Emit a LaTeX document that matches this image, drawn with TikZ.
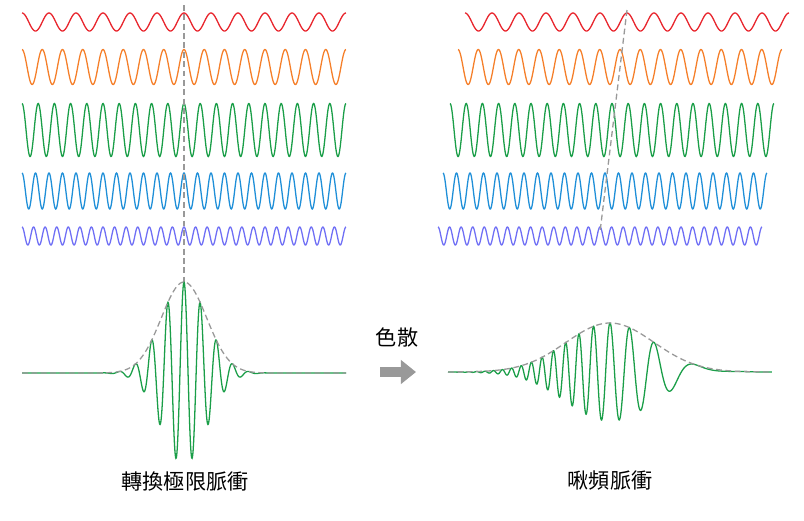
\documentclass[tikz,border=0pt]{standalone}
\usepackage{fontspec}
\newfontfamily\cjk{Noto Sans CJK TC}
\usetikzlibrary{arrows.meta}
\definecolor{wred}{HTML}{E8232B}
\definecolor{worange}{HTML}{F57F2A}
\definecolor{wgreen}{HTML}{1A9E48}
\definecolor{wblue}{HTML}{1F8FD8}
\definecolor{wpurple}{HTML}{6F6FF5}
\begin{document}
\begin{tikzpicture}[x=0.03cm,y=-0.03cm,
  wave/.style={line width=1.1pt},
  env/.style={gray!80,line width=1.1pt,dash pattern=on 5pt off 3pt},
  lab/.style={font=\cjk\fontsize{18}{20}\selectfont}]
\useasboundingbox (0,0) rectangle (804,520);
% left waves
\draw[wave,wred] plot[domain=22:346,samples=500] (\x,{22-9*cos((\x-22)*(360/27))});
\draw[wave,worange] plot[domain=22:346,samples=600] (\x,{67-17.5*cos((\x-22)*(360/20.25))});
\draw[wave,wgreen] plot[domain=22:346,samples=700] (\x,{130-26.5*cos((\x-22)*(360/16.2))});
\draw[wave,wblue] plot[domain=22:346,samples=800] (\x,{191-18*cos((\x-22)*(360/13.5))});
\draw[wave,wpurple] plot[domain=22:346,samples=900] (\x,{236-9*cos((\x-22)*(360/11.5714))});
% right waves
\draw[wave,wred] plot[domain=465:789,samples=500] (\x,{22-9*cos((\x-465)*(360/27))});
\draw[wave,worange] plot[domain=458:782,samples=600] (\x,{67-17.5*cos((\x-458)*(360/20.25))});
\draw[wave,wgreen] plot[domain=450:774,samples=700] (\x,{130-26.5*cos((\x-450)*(360/16.2))});
\draw[wave,wblue] plot[domain=443:767,samples=800] (\x,{191-18*cos((\x-443)*(360/13.5))});
\draw[wave,wpurple] plot[domain=438:762,samples=900] (\x,{236-9*cos((\x-438)*(360/11.5714))});
% dashed reference lines
\coordinate (la) at (184,5); \coordinate (lb) at (184,282);
\coordinate (ra) at (627,10); \coordinate (rb) at (600,232);
\draw[env] (la) -- (lb);
\draw[env] (ra) -- (rb);
% left pulse
\draw[wave,wgreen] plot[domain=22:346,samples=900] (\x,{373-91*exp(-((\x-184)/32)^2)*cos((\x-184)*(360/16.2))});
\draw[env] plot[domain=22:346,samples=200] (\x,{373-91*exp(-((\x-184)/32)^2)});
% right chirped pulse
\draw[wave,wgreen] plot[domain=448:772,samples=1000] (\x,{372-49*exp(-((\x-610)/62)^2)*cos(57.2958*(35.5*((\x-610)/100)-15.8*((\x-610)/100)^2))});
\draw[env] plot[domain=448:772,samples=200] (\x,{372-49*exp(-((\x-610)/62)^2)});
% arrow
\coordinate (aa) at (380,372); \coordinate (ab) at (416,372);
\draw[gray!80,line width=9pt,-{Triangle[length=13pt,width=20pt]}] (aa) -- (ab);
\node[lab] (ds) at (397,338) {色散};
\node[lab] (tl) at (185,481) {轉換極限脈衝};
\node[lab] (cp) at (610,481) {啾頻脈衝};
\end{tikzpicture}
\end{document}
